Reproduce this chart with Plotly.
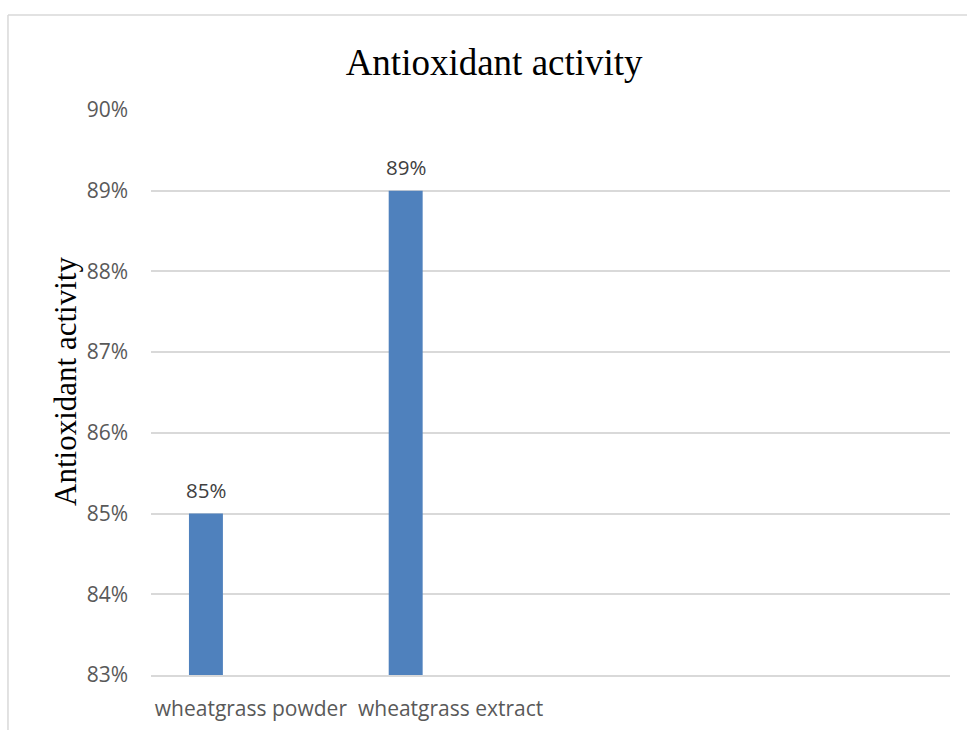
import plotly.graph_objects as go

# Antioxidant activity of wheatgrass preparations
categories = ["wheatgrass powder", "wheatgrass extract", " ", "  "]
activity = [0.85, 0.89, None, None]
value_labels = ["85%", "89%", "", ""]
y_ticks = [0.83, 0.84, 0.85, 0.86, 0.87, 0.88, 0.89, 0.90]

bar_width = 0.17
bar_offset = -0.31
bar_center = bar_offset + bar_width / 2

fig = go.Figure()
fig.add_trace(go.Bar(
    x=categories,
    y=activity,
    width=bar_width,
    offset=bar_offset,
    marker=dict(color="#4f81bd", line=dict(width=0)),
    hoverinfo="skip",
))

# value labels above each bar
for i, (v, lab) in enumerate(zip(activity, value_labels)):
    if v is None:
        continue
    fig.add_annotation(
        x=i + bar_center, y=v, xref="x", yref="y",
        text=lab, showarrow=False, yanchor="bottom", yshift=8,
        font=dict(family="Open Sans", size=20.5, color="#404040"),
    )

# rotated axis title
fig.add_annotation(
    x=-0.108, y=0.52, xref="paper", yref="paper",
    xanchor="center", yanchor="middle",
    text="Antioxidant activity", textangle=-90, showarrow=False,
    font=dict(family="Liberation Serif", size=31, color="black"),
)

# chart frame
frame = dict(color="#d9d9d9", width=1.5)
fig.add_shape(type="line", xref="paper", yref="paper",
              x0=-0.179, x1=1.1, y0=1.168, y1=1.168, line=frame)
fig.add_shape(type="line", xref="paper", yref="paper",
              x0=-0.179, x1=-0.179, y0=1.168, y1=-0.2, line=frame)

fig.update_layout(
    width=967, height=730,
    margin=dict(l=151, r=17, t=110, b=55),
    paper_bgcolor="white", plot_bgcolor="white",
    showlegend=False,
    title=dict(
        text="Antioxidant activity", x=0.511, xanchor="center",
        y=1 - 62 / 730, yanchor="middle",
        font=dict(family="Liberation Serif", size=37, color="black"),
    ),
    xaxis=dict(
        type="category", categoryorder="array", categoryarray=categories,
        showgrid=False, showline=True, linecolor="#d9d9d9", linewidth=1.5,
        ticks="", ticklabelstandoff=14, automargin=False,
        tickfont=dict(family="Open Sans", size=21, color="#595959"),
        range=[-0.5, 3.5],
    ),
    yaxis=dict(
        range=[0.83, 0.90], tickvals=y_ticks, tickformat=".0%",
        showgrid=True, gridcolor="#d9d9d9", gridwidth=1.5,
        zeroline=False, showline=False, ticks="", automargin=False,
        ticklabelstandoff=22,
        tickfont=dict(family="Open Sans", size=21, color="#595959"),
    ),
)

fig.write_html("out.html")
